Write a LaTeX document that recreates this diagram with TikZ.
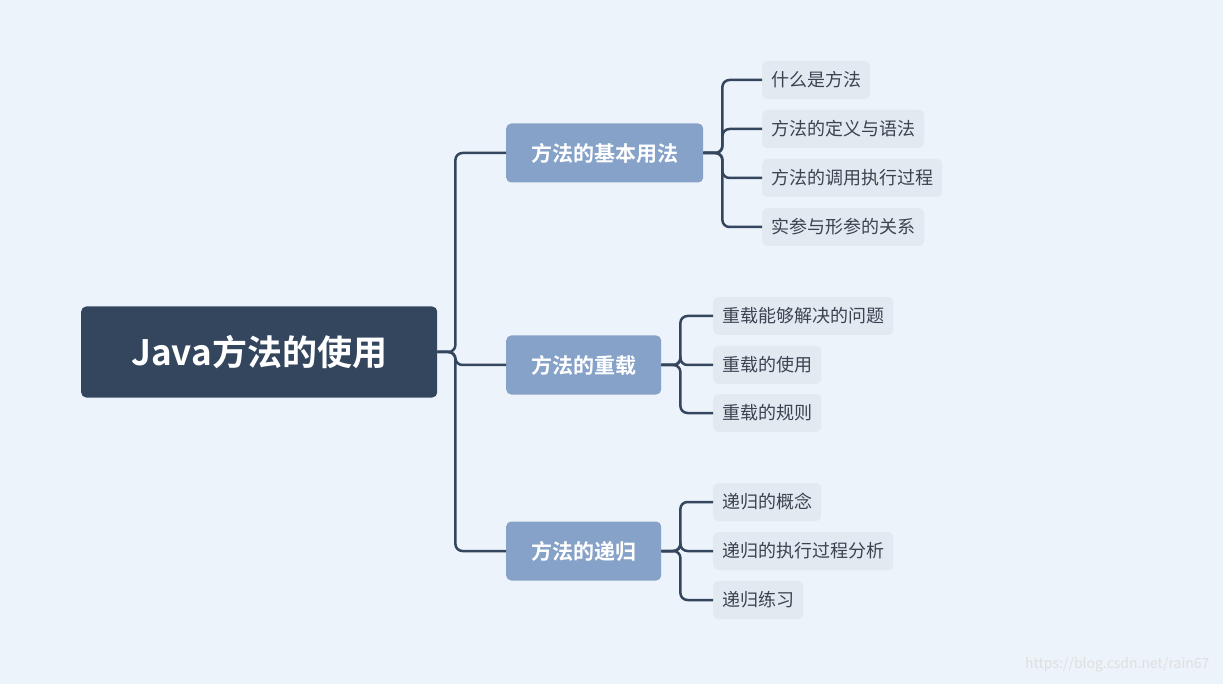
\documentclass[tikz,border=0pt]{standalone}
\usepackage{fontspec}
\setmainfont{Noto Sans CJK SC}[BoldFont={Noto Sans CJK SC Bold}]
\definecolor{bgblue}{HTML}{EDF3FA}
\definecolor{rootcol}{HTML}{34465E}
\definecolor{subcol}{HTML}{86A2C8}
\definecolor{leafcol}{HTML}{E2E9F1}
\definecolor{leaftext}{HTML}{3A4350}
\begin{document}
\begin{tikzpicture}[x=1pt, y=-1pt,
  rootbox/.style = {rectangle, rounded corners=5pt, fill=rootcol, text=white, anchor=west,
    minimum width=356pt, minimum height=91pt, font=\fontsize{35pt}{40pt}\selectfont\bfseries},
  subbox/.style = {rectangle, rounded corners=5pt, fill=subcol, text=white, anchor=west,
    inner xsep=25pt, minimum height=59pt, font=\fontsize{21pt}{25pt}\selectfont\bfseries},
  leafbox/.style = {rectangle, rounded corners=5pt, fill=leafcol, text=leaftext, anchor=west,
    inner xsep=9pt, minimum height=38pt, font=\fontsize{18pt}{22pt}\selectfont},
  link/.style = {draw=rootcol, line width=2.5pt, rounded corners=7pt}]
  \fill [bgblue] (0,0) rectangle (1223,684);
  \useasboundingbox (0,0) rectangle (1223,684);

  % Root and main branches.
  \node at (81, 352) [rootbox, name=Root] {Java方法的使用};
  \node at (506, 153) [subbox, name=Basic] {方法的基本用法};
  \node at (506, 365) [subbox, name=Overload] {方法的重载};
  \node at (506, 551) [subbox, name=Recursion] {方法的递归};

  % Leaves.
  \node at (762, 80) [leafbox, name=BasicA] {什么是方法};
  \node at (762, 129) [leafbox, name=BasicB] {方法的定义与语法};
  \node at (762, 178) [leafbox, name=BasicC] {方法的调用执行过程};
  \node at (762, 227) [leafbox, name=BasicD] {实参与形参的关系};
  \node at (713, 316) [leafbox, name=OverloadA] {重载能够解决的问题};
  \node at (713, 365) [leafbox, name=OverloadB] {重载的使用};
  \node at (713, 413) [leafbox, name=OverloadC] {重载的规则};
  \node at (713, 502) [leafbox, name=RecursionA] {递归的概念};
  \node at (713, 551) [leafbox, name=RecursionB] {递归的执行过程分析};
  \node at (713, 600) [leafbox, name=RecursionC] {递归练习};

  % Connectors.
  \foreach \child in {Basic, Overload, Recursion}
    \draw [link] (Root.east) -- ++(18,0) |- (\child.west);
  \foreach \child in {BasicA, BasicB, BasicC, BasicD}
    \draw [link] (Basic.east) -- ++(19,0) |- (\child.west);
  \foreach \child in {OverloadA, OverloadB, OverloadC}
    \draw [link] (Overload.east) -- ++(19,0) |- (\child.west);
  \foreach \child in {RecursionA, RecursionB, RecursionC}
    \draw [link] (Recursion.east) -- ++(19,0) |- (\child.west);

  \node at (1213, 665) [anchor=east, text=white!75!gray, font=\fontsize{14pt}{16pt}\selectfont, name=Mark] {https://blog.csdn.net/rain67};
\end{tikzpicture}
\end{document}
